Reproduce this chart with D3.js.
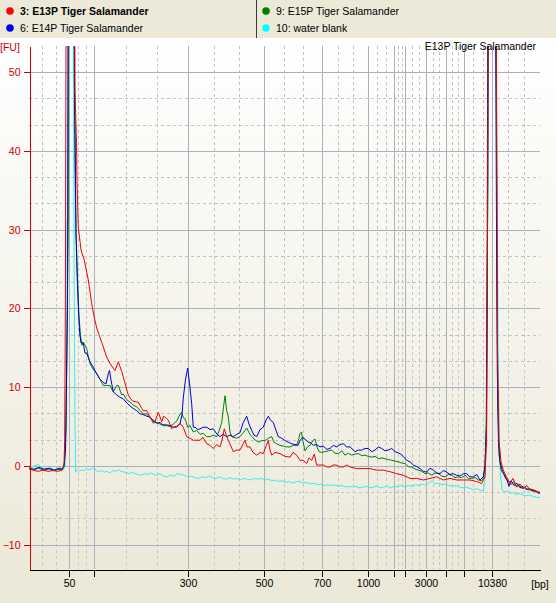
<!DOCTYPE html>
<html>
<head>
<meta charset="utf-8">
<script src="https://cdn.jsdelivr.net/npm/d3@7"></script>
<style>
    body { margin: 0; background: #ece9d8; }
    svg { display: block; }
</style>
</head>
<body>
<div id="chart"></div>
<script>
// ladder sizes (bp) and the migration time (s) they sit at
var ladderBp = [50, 100, 300, 500, 700, 1000, 1500, 2000, 3000, 5000, 7000, 10380];
var ladderSec = [45.76, 49.33, 62.76, 73.61, 81.9, 88.47, 92.19, 93.76, 96.67, 99.61, 102.19, 106.1];
var labelledBp = [50, 300, 500, 700, 1000, 3000, 10380];
var timeRange = [40, 113];
var fuTicks = [-10, 0, 10, 20, 30, 40, 50];
var fuRange = [-13.1, 53.3];

var sampleNames = ["3: E13P Tiger Salamander", "6: E14P Tiger Salamander", "9: E15P Tiger Salamander", "10: water blank"];
var dotColors = ["#ff0000", "#0000ff", "#008000", "#00ffff"];
var lineColors = ["#ee0000", "#0000cc", "#008000", "#33eeee"];

// traces as [time (s), FU]
var e13pTrace = [[40,-0.4],[40.6,-0.55],[41.3,-0.7],[42,-0.55],[42.7,-0.7],[43.4,-0.6],[44.1,-0.7],[44.7,-0.55],[45.0,0],[45.1,3.3],[45.2,21],[45.3,60],[46.0,250],[46.57,47.7],[46.79,41],[46.86,36.2],[47.04,30.3],[47.43,27.4],[47.9,26.1],[48.47,23.6],[48.96,20.6],[49.19,19.4],[49.67,17.5],[50.14,16.3],[50.61,15.1],[51.1,13.8],[51.57,13.0],[52.04,12.4],[52.29,12.1],[52.76,13.2],[53.24,12.0],[53.71,10.5],[54.14,9.1],[54.43,8.6],[54.86,8.2],[55.39,8.1],[55.61,8.1],[56.1,7.3],[56.33,7.0],[56.81,7.0],[57.29,6.2],[57.76,5.4],[57.99,5.6],[58.47,6.8],[58.96,5.6],[59.21,6.3],[59.67,6.0],[59.9,5.8],[60.39,4.7],[60.61,4.9],[61.1,4.9],[61.57,5.4],[62.04,4.9],[62.53,3.7],[63.0,3.5],[63.47,3.25],[64.43,3.25],[64.86,3.6],[65.39,2.8],[65.86,2.6],[66.33,2.2],[66.81,2.7],[67.29,2.4],[67.57,3.25],[67.9,4.7],[68.21,3.8],[68.47,3.25],[69.19,1.8],[69.67,2.0],[70.14,2.0],[70.86,3.25],[71.14,2.4],[71.57,2.4],[72.0,1.7],[72.53,1.35],[73.0,1.7],[73.47,1.55],[73.86,2.5],[74.19,3.25],[74.43,2.0],[74.67,1.35],[75.14,1.7],[75.86,1.55],[76.57,1.2],[77.29,1.1],[77.71,1.7],[78.24,1.35],[78.71,0.7],[79.19,0.7],[79.67,0.3],[80.0,1.0],[80.39,0.7],[80.76,1.5],[81.1,0.1],[81.33,0.1],[82.04,0.1],[82.53,-0.15],[83.0,-0.15],[83.47,0.1],[83.96,0.1],[84.43,-0.15],[84.9,-0.15],[85.39,0.1],[85.86,-0.15],[86.81,-0.35],[87.76,-0.35],[88.71,-0.35],[89.67,-0.55],[90.61,-0.55],[91.57,-0.75],[92.53,-1.0],[93.47,-1.2],[94.43,-1.6],[95.39,-1.6],[96.33,-1.8],[97.29,-1.6],[98.24,-1.4],[99.19,-1.8],[100.14,-1.6],[101.1,-1.8],[102.04,-1.8],[103.0,-1.8],[103.96,-2.0],[104.67,-2.25],[105.14,-1.4],[105.36,3.25],[105.47,21],[105.57,46],[106.14,250],[106.79,46],[106.86,33.7],[106.93,14.7],[107.14,3.25],[107.43,0.5],[107.76,-0.55],[108.14,-1.3],[108.71,-2.2],[109.14,-1.6],[109.67,-2.7],[110.14,-2.3],[110.61,-2.9],[111.14,-2.5],[111.57,-3.1],[112.0,-3.0],[112.53,-3.3],[113.0,-3.35]];

var e14pTrace = [[40,-0.3],[40.7,-0.43],[41.4,-0.2],[42.1,-0.43],[42.9,-0.3],[43.6,-0.55],[44.3,-0.3],[44.7,-0.43],[45.0,-0.05],[45.21,2.0],[45.5,20],[46.1,300],[46.5,50],[46.61,40],[46.71,29.5],[46.86,24.5],[47.04,20.2],[47.24,16.8],[47.43,15.6],[47.76,15.6],[48.0,14.3],[48.24,14.3],[48.71,13.2],[49.19,12.5],[49.43,12.1],[49.86,11.4],[50.14,11.0],[50.57,10.6],[51.0,10.4],[51.33,11.7],[51.5,12.1],[51.71,10.9],[52.04,9.4],[52.53,9.0],[53.0,8.7],[53.47,8.5],[53.86,8.1],[54.43,7.6],[54.86,7.3],[55.39,7.0],[55.86,6.6],[56.33,6.5],[56.81,6.3],[57.29,6.2],[57.71,5.7],[58.24,5.4],[58.71,5.5],[59.14,5.2],[59.67,5.2],[60.14,5.1],[60.61,4.9],[61.1,5.0],[61.57,5.3],[61.86,6.5],[62.04,8.6],[62.36,11.0],[62.67,12.4],[62.93,10.5],[63.24,7.9],[63.47,4.9],[63.71,4.9],[64.14,4.6],[64.43,4.7],[64.9,4.9],[65.39,4.9],[65.86,4.6],[66.33,4.7],[66.86,4.0],[67.29,3.7],[67.71,4.0],[68.24,3.7],[68.71,3.9],[69.19,3.7],[69.67,4.0],[70.14,4.2],[70.61,5.5],[71.1,6.3],[71.43,5.3],[71.81,4.5],[72.14,3.9],[72.53,3.7],[73.0,4.6],[73.47,4.9],[73.86,5.8],[74.19,6.3],[74.5,5.8],[74.9,5.5],[75.29,4.5],[75.61,3.7],[76.1,3.5],[76.57,3.2],[77.04,3.0],[77.53,2.8],[78.0,2.7],[78.43,2.6],[78.71,3.2],[79.07,3.6],[79.43,3.4],[79.86,3.0],[80.14,3.0],[80.61,2.6],[81.1,2.7],[81.57,2.4],[82.04,2.5],[82.53,2.1],[83.0,2.2],[83.47,2.6],[83.96,2.4],[84.43,2.7],[84.9,2.8],[85.39,2.4],[85.86,2.4],[86.57,1.8],[87.04,2.0],[87.53,2.0],[88.0,2.2],[88.47,2.2],[88.96,1.8],[89.43,2.0],[89.9,2.4],[90.39,2.2],[90.86,1.9],[91.33,2.0],[91.81,2.2],[92.29,1.8],[93.0,1.55],[93.47,1.2],[93.96,0.7],[94.43,0.5],[94.9,0.1],[95.39,-0.1],[95.86,-0.35],[96.33,-0.7],[96.81,-0.8],[97.29,-0.3],[97.76,-0.55],[98.24,-0.9],[98.71,-1.0],[99.19,-0.6],[99.67,-0.8],[100.14,-1.1],[100.61,-1.0],[101.1,-1.2],[101.57,-1.3],[102.04,-1.0],[102.53,-1.0],[103.0,-1.4],[103.47,-1.4],[103.96,-1.1],[104.43,-1.8],[104.9,-1.4],[105.14,0.0],[105.36,5],[105.5,30],[105.61,60],[106.14,200],[106.64,60],[106.79,30],[106.9,12],[107.07,3],[107.29,0.5],[107.57,-0.5],[107.93,-1.2],[108.29,-1.8],[108.57,-2.6],[108.86,-1.9],[109.29,-2.5],[109.71,-2.2],[110.14,-2.8],[110.57,-2.6],[111.0,-3.0],[111.43,-2.9],[111.86,-3.2],[112.29,-3.1],[112.71,-3.5],[113.0,-3.4]];

var e15pTrace = [[40,-0.35],[40.7,-0.5],[41.4,-0.3],[42.1,-0.55],[42.9,-0.4],[43.6,-0.6],[44.3,-0.45],[44.8,-0.5],[45.05,0.2],[45.3,5],[45.6,30],[46.07,400],[46.36,100],[46.47,50],[46.57,38],[46.71,30],[46.93,24],[47.14,19],[47.36,16.5],[47.57,15.3],[47.76,15.7],[48.24,14.9],[48.47,13.9],[48.71,13.0],[49.14,12.3],[49.67,11.7],[50.14,11.0],[50.61,10.2],[51.1,10.2],[51.57,10.2],[52.04,9.4],[52.53,10.2],[52.76,10.2],[53.24,9.0],[53.47,9.1],[53.96,8.4],[54.43,8.1],[54.9,7.7],[55.39,7.5],[55.86,7.0],[56.33,6.6],[56.81,6.6],[57.29,6.1],[57.76,5.8],[58.24,5.5],[58.71,5.3],[59.19,5.1],[59.67,5.1],[60.14,5.0],[60.61,5.3],[61.1,5.7],[61.43,6.3],[61.81,6.8],[62.04,6.1],[62.29,6.0],[62.67,4.9],[63.0,5.1],[63.47,4.3],[63.96,4.5],[64.43,4.0],[64.9,4.1],[65.39,3.7],[65.86,3.7],[66.33,3.9],[66.81,3.7],[67.14,4.4],[67.53,5.5],[67.79,7.5],[68.0,8.9],[68.24,7.0],[68.47,6.2],[68.71,4.3],[68.96,3.7],[69.67,3.5],[70.14,3.7],[70.61,4.2],[71.1,4.8],[71.43,4.2],[71.81,3.7],[72.29,3.3],[72.76,3.0],[73.24,3.2],[73.71,3.2],[74.19,3.5],[74.67,3.7],[75.0,3.0],[75.39,2.8],[75.86,2.6],[76.33,2.5],[76.81,2.4],[77.29,2.4],[77.76,2.6],[78.24,2.6],[78.57,3.5],[78.71,4.1],[78.93,4.3],[79.14,3.1],[79.43,1.9],[79.79,2.4],[80.14,2.6],[80.57,3.2],[80.86,3.4],[81.14,2.4],[81.43,1.8],[81.81,1.7],[82.29,1.8],[82.76,1.9],[83.24,2.0],[83.71,1.6],[84.19,1.55],[84.67,1.9],[85.14,1.35],[85.61,1.6],[86.1,1.35],[86.57,1.5],[87.04,1.55],[87.53,1.3],[88.0,1.35],[88.47,1.2],[88.96,1.1],[89.43,1.2],[89.9,0.9],[90.39,1.0],[90.86,0.9],[91.33,0.8],[91.81,0.7],[92.29,0.6],[92.76,0.5],[93.24,0.35],[93.71,0.3],[94.19,-0.1],[94.67,-0.15],[95.14,-0.4],[95.61,-0.55],[96.1,-0.7],[96.57,-1.0],[97.04,-0.9],[97.53,-1.2],[98.0,-0.9],[98.47,-1.0],[98.96,-1.3],[99.43,-1.4],[99.9,-1.1],[100.39,-1.2],[100.86,-1.5],[101.33,-1.4],[101.81,-1.5],[102.29,-1.2],[102.76,-1.6],[103.24,-1.6],[103.71,-1.5],[104.19,-1.8],[104.67,-1.9],[104.9,-1.6],[105.14,0],[105.33,6],[105.47,35],[105.61,80],[106.14,250],[106.69,70],[106.83,28],[106.96,8],[107.14,1.5],[107.43,-0.5],[107.79,-1.0],[108.14,-1.7],[108.5,-2.0],[108.86,-2.4],[109.21,-2.0],[109.57,-2.6],[110.0,-2.4],[110.43,-2.9],[110.86,-2.7],[111.29,-3.1],[111.71,-2.9],[112.14,-3.3],[112.57,-3.2],[113.0,-3.5]];

var waterTrace = [[40,-0.3],[40.6,-0.1],[41.3,0.2],[41.7,-0.2],[42.3,-0.4],[43,-0.3],[43.7,-0.5],[44.4,-0.3],[44.9,-0.4],[45.14,-0.2],[45.33,5],[45.45,31],[45.57,31.5],[45.71,80],[45.9,200],[46.2,150],[46.33,60],[46.45,25],[46.57,6],[46.67,-0.8],[46.9,-0.5],[47.2,-0.7],[47.5,-0.5],[47.9,-0.6],[48.2,-0.4],[48.6,-0.5],[49.0,-0.4],[49.3,-0.2],[49.6,-0.6],[50.0,-0.8],[50.4,-0.6],[50.8,-0.8],[51.2,-0.7],[51.6,-0.9],[52.0,-0.6],[52.4,-0.7],[52.8,-0.5],[53.2,-0.7],[53.6,-0.8],[54.0,-0.9],[54.4,-1.0],[54.8,-0.8],[55.2,-1.0],[55.6,-1.1],[56.0,-1.2],[56.5,-1.0],[57.0,-1.1],[57.4,-0.9],[57.8,-1.1],[58.2,-1.2],[58.7,-1.0],[59.2,-1.3],[59.7,-1.4],[60.2,-1.2],[60.7,-1.3],[61.2,-1.0],[61.7,-1.1],[62.2,-1.2],[62.7,-1.4],[63.2,-1.3],[63.7,-1.5],[64.2,-1.6],[64.7,-1.4],[65.2,-1.5],[65.7,-1.3],[66.2,-1.5],[66.7,-1.6],[67.2,-1.4],[67.7,-1.6],[68.2,-1.7],[68.7,-1.5],[69.2,-1.7],[69.7,-1.6],[70.2,-1.8],[70.7,-1.6],[71.2,-1.7],[71.7,-1.8],[72.2,-1.6],[72.7,-1.7],[73.2,-1.6],[73.7,-1.8],[74.2,-1.7],[74.7,-1.9],[75.2,-1.8],[75.7,-2.0],[76.2,-1.9],[76.7,-2.1],[77.2,-2.0],[77.7,-2.2],[78.2,-2.0],[78.7,-2.0],[79.2,-2.2],[79.7,-2.1],[80.2,-2.3],[80.7,-2.2],[81.2,-2.4],[81.7,-2.3],[82.2,-2.5],[82.7,-2.4],[83.2,-2.5],[83.7,-2.4],[84.2,-2.6],[84.7,-2.5],[85.2,-2.7],[85.7,-2.6],[86.2,-2.7],[86.7,-2.6],[87.2,-2.8],[87.7,-2.7],[88.2,-2.6],[88.7,-2.8],[89.2,-2.7],[89.7,-2.6],[90.2,-2.8],[90.7,-2.7],[91.2,-2.6],[91.7,-2.8],[92.2,-2.6],[92.7,-2.7],[93.2,-2.5],[93.7,-2.7],[94.2,-2.5],[94.7,-2.6],[95.2,-2.4],[95.7,-2.5],[96.2,-2.3],[96.7,-2.5],[97.2,-2.1],[97.6,-1.9],[98.0,-2.3],[98.5,-2.2],[99.0,-2.4],[99.5,-2.3],[100.0,-2.5],[100.5,-2.6],[101.0,-2.5],[101.5,-2.7],[102.0,-2.8],[102.5,-2.7],[103.0,-2.9],[103.5,-3.0],[104.0,-2.9],[104.5,-3.1],[104.9,-3.2],[105.14,-1.8],[105.3,3],[105.43,15],[105.5,30],[105.6,37],[105.7,80],[106.1,250],[106.7,80],[106.8,53],[106.9,30],[107.0,16],[107.1,9],[107.2,3],[107.3,-0.5],[107.45,-2.0],[107.6,-3.1],[107.9,-3.3],[108.3,-3.2],[108.7,-3.5],[109.1,-3.4],[109.6,-3.6],[110.0,-3.5],[110.5,-3.7],[111.0,-3.8],[111.5,-3.7],[112.0,-3.9],[112.5,-4.0],[113.0,-4.0]];

var traces = [e13pTrace, e14pTrace, e15pTrace, waterTrace];

var drawElectropherogram = (function() {

    var plot = {left: 29, right: 540, top: 46, bottom: 569};
    var font = "'Liberation Sans', Arial, sans-serif";
    var axisRed = "#cc0000";

    var x = d3.scaleLinear().domain(timeRange).range([plot.left, plot.right]);
    var y = d3.scaleLinear().domain(fuRange).range([plot.bottom, plot.top]);

    // keep 1px lines on the pixel grid
    function crisp(v) { return Math.round(v) + 0.5; }

//legend strip at the top
    function drawLegend(svg) {
        svg.append("rect")
            .attr("width", 556)
            .attr("height", 38)
            .style("fill", "#ece9d8");

        svg.append("line")
            .attr("x1", 256.5).attr("x2", 256.5)
            .attr("y1", 0).attr("y2", 38)
            .style("stroke", "#3a3a3a");

        sampleNames.forEach(function(name, i) {
            var col = i < 2 ? 0 : 1;
            var row = i % 2;
            var cx = col === 0 ? 10 : 266;
            var cy = row === 0 ? 11 : 28;
            svg.append("circle")
                .attr("cx", cx)
                .attr("cy", cy)
                .attr("r", 3.8)
                .style("fill", dotColors[i]);
            svg.append("text")
                .attr("x", cx + 10)
                .attr("y", cy + 4)
                .style("font-family", font)
                .style("font-size", "10.5px")
                .style("font-weight", i === 0 ? "bold" : "normal")
                .style("fill", "#000")
                .text(name);
        });
    }

//gradient panel behind the plot
    function drawPanel(svg) {
        var grad = svg.append("defs").append("linearGradient")
            .attr("id", "panelGrad")
            .attr("x1", 0).attr("y1", 0)
            .attr("x2", 0).attr("y2", 1);
        grad.append("stop").attr("offset", "0%").attr("stop-color", "#ffffff");
        grad.append("stop").attr("offset", "100%").attr("stop-color", "#ebe8d7");

        svg.append("rect")
            .attr("y", 38)
            .attr("width", 556)
            .attr("height", 565)
            .style("fill", "url(#panelGrad)");

        svg.select("defs").append("clipPath")
            .attr("id", "plotClip")
            .append("rect")
            .attr("x", plot.left)
            .attr("y", plot.top)
            .attr("width", plot.right - plot.left)
            .attr("height", plot.bottom - plot.top);
    }

//dashed and solid grid lines
    function drawGrid(g) {
        var bounds = [timeRange[0]].concat(ladderSec, [timeRange[1]]);
        var minorX = [];
        for (var i = 0; i < bounds.length - 1; i++) {
            var a = bounds[i], b = bounds[i + 1];
            minorX.push(a + (b - a) / 3, a + 2 * (b - a) / 3);
        }
        var minorY = d3.range(-6, 18)
            .filter(function(k) { return k % 3 !== 0; })
            .map(function(k) { return k * 10 / 3; })
            .filter(function(v) { return y(v) > plot.top + 1 && y(v) < plot.bottom - 1; });

        var dashed = g.append("g")
            .style("stroke", "#c3c3c3")
            .style("stroke-dasharray", "3,3")
            .style("shape-rendering", "crispEdges");
        dashed.selectAll(".mx").data(minorX).enter().append("line")
            .attr("x1", function(d) { return crisp(x(d)); })
            .attr("x2", function(d) { return crisp(x(d)); })
            .attr("y1", plot.top).attr("y2", plot.bottom);
        dashed.selectAll(".my").data(minorY).enter().append("line")
            .attr("x1", plot.left).attr("x2", plot.right)
            .attr("y1", function(d) { return crisp(y(d)); })
            .attr("y2", function(d) { return crisp(y(d)); });

        var solid = g.append("g")
            .style("stroke", "#a9b1bd")
            .style("shape-rendering", "crispEdges");
        solid.selectAll(".gx").data(ladderSec).enter().append("line")
            .attr("x1", function(d) { return crisp(x(d)); })
            .attr("x2", function(d) { return crisp(x(d)); })
            .attr("y1", plot.top).attr("y2", plot.bottom);
        solid.selectAll(".gy").data(fuTicks).enter().append("line")
            .attr("x1", plot.left).attr("x2", plot.right)
            .attr("y1", function(d) { return crisp(y(d)); })
            .attr("y2", function(d) { return crisp(y(d)); });
    }

//the four traces, water blank underneath, E13P on top
    function drawTraces(g) {
        var line = d3.line()
            .x(function(d) { return x(d[0]); })
            .y(function(d) { return y(d[1]); });
        var traceGroup = g.append("g").attr("clip-path", "url(#plotClip)");
        [3, 2, 1, 0].forEach(function(i) {
            traceGroup.append("path")
                .datum(traces[i])
                .attr("d", line)
                .style("fill", "none")
                .style("stroke", lineColors[i])
                .style("stroke-width", 1);
        });
    }

//axes: red FU axis, black bp axis
    function drawAxes(g) {
        var timeToBp = {};
        ladderSec.forEach(function(t, i) { timeToBp[t] = ladderBp[i]; });

        var xAxis = d3.axisBottom(x)
            .tickValues(ladderSec)
            .tickSizeInner(7)
            .tickSizeOuter(0)
            .tickPadding(3)
            .tickFormat(function(t) {
                var bp = timeToBp[t];
                return labelledBp.indexOf(bp) >= 0 ? bp : "";
            });
        var xg = g.append("g")
            .attr("transform", "translate(0," + (plot.bottom + 0.5) + ")")
            .call(xAxis);
        xg.select(".domain").style("stroke", "#000").style("shape-rendering", "crispEdges");
        xg.selectAll(".tick line").style("stroke", "#000").style("shape-rendering", "crispEdges")
            .attr("transform", function() { return "translate(" + (crisp(0) - 0.5) + ",0)"; });
        xg.selectAll(".tick").attr("transform", function(d) { return "translate(" + crisp(x(d)) + ",0)"; });
        xg.selectAll("text")
            .style("font-family", font)
            .style("font-size", "10.5px")
            .style("fill", "#000");

        g.append("text")
            .attr("x", 540)
            .attr("y", 588)
            .attr("text-anchor", "middle")
            .style("font-family", font)
            .style("font-size", "10.5px")
            .text("[bp]");

        var yAxis = d3.axisLeft(y)
            .tickValues(fuTicks)
            .tickSizeInner(6)
            .tickSizeOuter(0)
            .tickPadding(3);
        var yg = g.append("g")
            .attr("transform", "translate(" + (plot.left + 0.5) + ",0)")
            .call(yAxis);
        yg.selectAll(".tick").attr("transform", function(d) { return "translate(0," + crisp(y(d)) + ")"; });
        yg.select(".domain").style("stroke", axisRed).style("shape-rendering", "crispEdges");
        yg.selectAll(".tick line").style("stroke", axisRed).style("shape-rendering", "crispEdges");
        yg.selectAll("text")
            .style("font-family", font)
            .style("font-size", "10.5px")
            .style("fill", axisRed);

        g.append("text")
            .attr("x", 0)
            .attr("y", 51)
            .style("font-family", font)
            .style("font-size", "10.5px")
            .style("fill", axisRed)
            .text("[FU]");

        // sample title, top right of the plot
        g.append("text")
            .attr("x", 536)
            .attr("y", 50)
            .attr("text-anchor", "end")
            .style("font-family", font)
            .style("font-size", "10.5px")
            .style("fill", "#000")
            .text("E13P Tiger Salamander");
    }

    return {
        render: function(placement) {
            d3.select(placement).html("");
            var svg = d3.select(placement).append("svg")
                .attr("width", 556)
                .attr("height", 603);

            drawLegend(svg);
            drawPanel(svg);

            var g = svg.append("g");
            drawGrid(g);
            drawTraces(g);
            drawAxes(g);
        }
    };
})();

drawElectropherogram.render("#chart");
</script>
</body>
</html>
